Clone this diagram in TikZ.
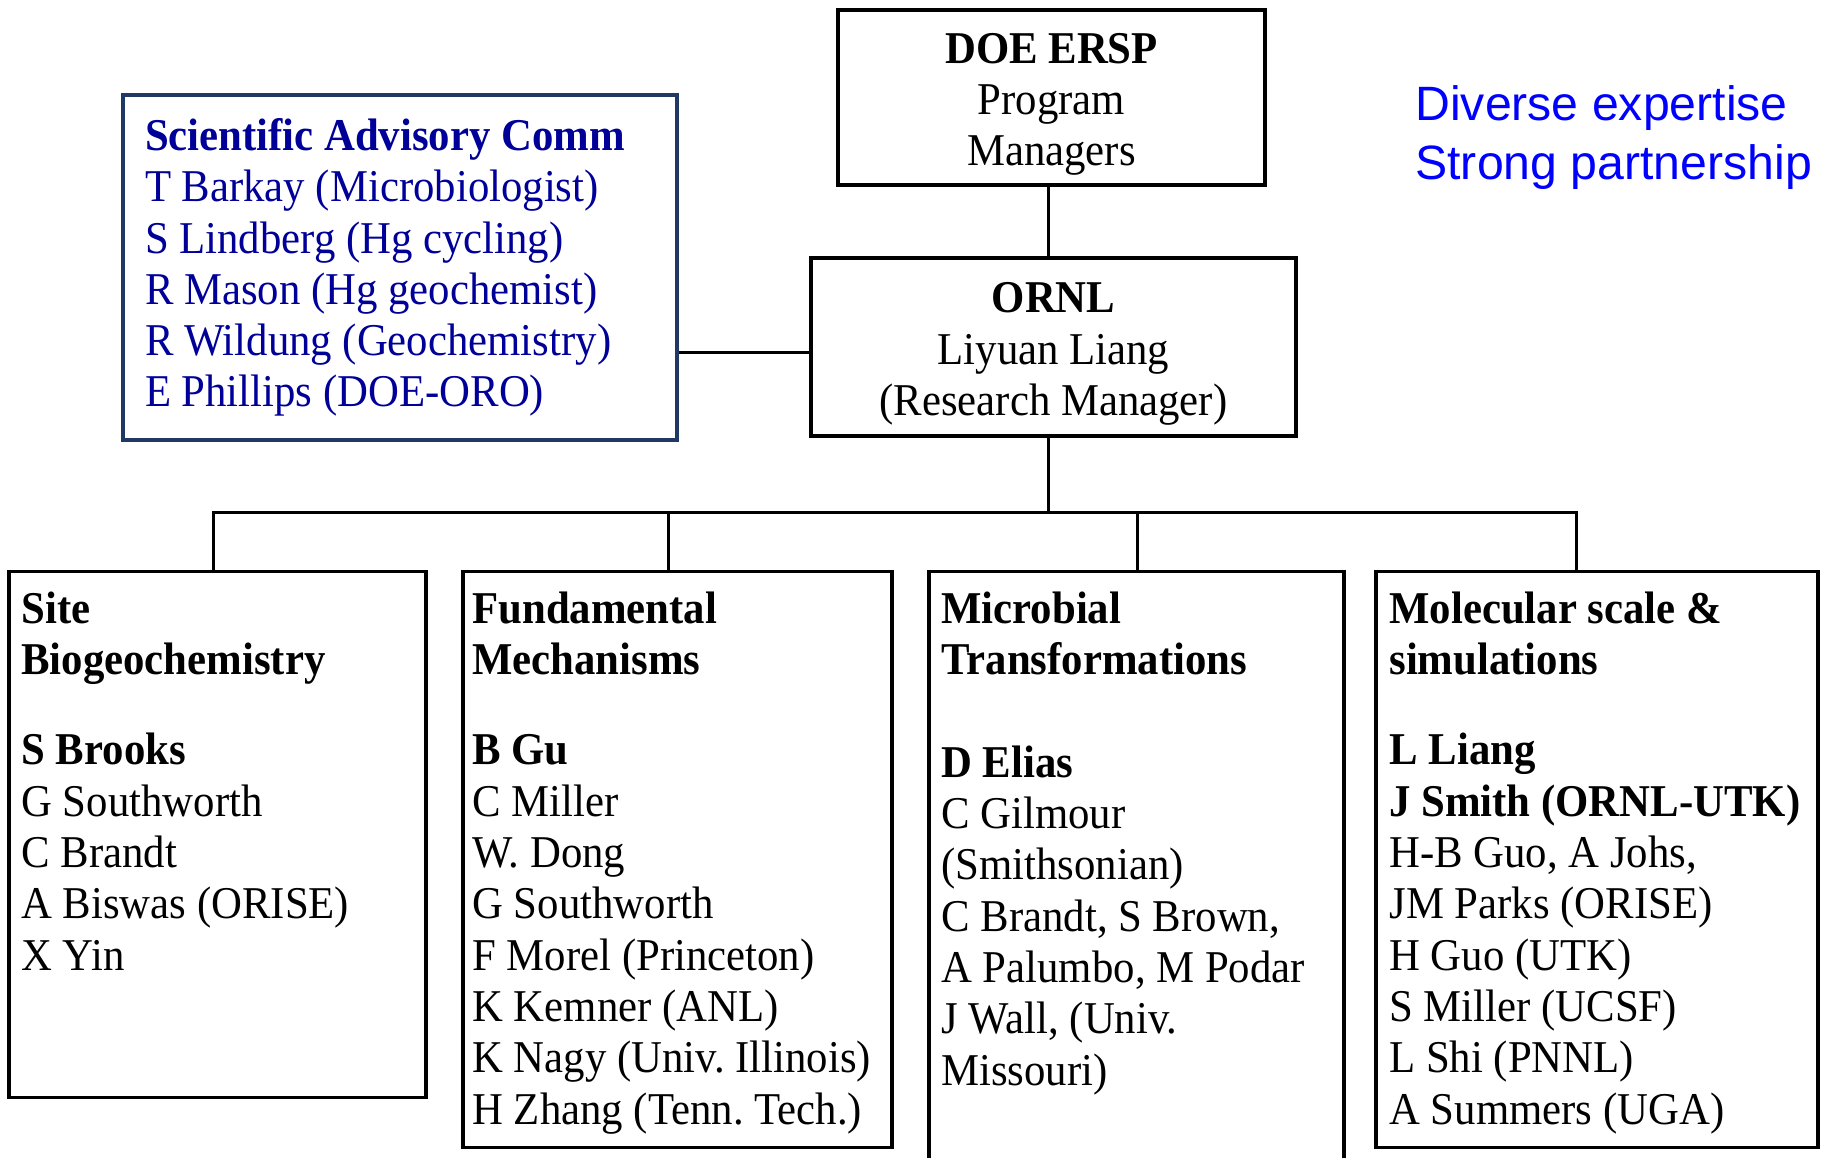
\documentclass[tikz,border=0pt]{standalone}
\usepackage{fontspec}
\setmainfont{Liberation Serif}[FakeStretch=0.94]
\newfontfamily\sansfnt{Liberation Sans}
\usetikzlibrary{positioning}
\frenchspacing

\definecolor{sacline}{RGB}{31,56,100}
\definecolor{sactext}{RGB}{0,0,153}
\definecolor{mottoblue}{RGB}{0,0,255}
\newcommand{\boxfnt}{\fontsize{22.75pt}{25.65pt}\selectfont}
\newcommand{\mottofnt}{\sansfnt\fontsize{24.1pt}{29.65pt}\selectfont}
\newcommand{\toprule}{\rule{0pt}{22pt}}

\tikzset{
  orgbox/.style={draw, rectangle, line width=1.6pt, inner sep=0pt},
  memtext/.style={anchor=north west, inner sep=0pt, align=flush left, font=\boxfnt},
  link/.style={line width=1.5pt},
}

\begin{document}
\begin{tikzpicture}[x=0.5pt, y=-0.5pt]
  \useasboundingbox (0,0) rectangle (1824,1157);
  % top of the chart
  \node[orgbox, minimum width=213.5pt, minimum height=87.5pt, align=flush center, font=\boxfnt] (doe) at (1051.5,97.5)
    {\toprule\textbf{DOE ERSP}\\Program\\Managers};
  \node[orgbox, minimum width=242.5pt, minimum height=89pt, align=flush center, font=\boxfnt] (ornl) at (1053.5,347)
    {\toprule\textbf{ORNL}\\Liyuan Liang\\(Research Manager)};
  % advisory committee
  \node[orgbox, draw=sacline, text=sactext, text width=255pt, inner xsep=11pt, minimum height=172.5pt, align=flush left, font=\boxfnt] (sac) at (400,267.5)
    {\textbf{Scientific Advisory Comm}\\T Barkay (Microbiologist)\\S Lindberg (Hg cycling)\\R Mason (Hg geochemist)\\R Wildung (Geochemistry)\\E Phillips (DOE-ORO)};
  % motto
  \node[anchor=north west, inner sep=0pt, align=flush left, text=mottoblue, font=\mottofnt] (motto) at (1415,78.4)
    {\strut Diverse expertise\\Strong partnership};

  % research areas
  \node[orgbox, anchor=north, minimum width=208.5pt, minimum height=263pt] (site) at (217.5,570) {};
  \node[orgbox, anchor=north, minimum width=214.5pt, minimum height=288pt] (fund) at (677.5,570) {};
  \node[orgbox, anchor=north, minimum width=207.5pt, minimum height=305pt] (micro) at (1136.5,570) {};
  \node[orgbox, anchor=north, minimum width=221pt, minimum height=288pt] (mol) at (1597,570) {};

  \node[memtext] (sitetxt) at (21,587)
    {\strut\textbf{Site}\\\textbf{Biogeochemistry}\\[19.5pt]\textbf{S Brooks}\\G Southworth\\C Brandt\\A Biswas (ORISE)\\X Yin};
  \node[memtext] (fundtxt) at (472,587)
    {\strut\textbf{Fundamental}\\\textbf{Mechanisms}\\[19.5pt]\textbf{B Gu}\\C Miller\\W. Dong\\G Southworth\\F Morel (Princeton)\\K Kemner (ANL)\\K Nagy (Univ. Illinois)\\H Zhang (Tenn. Tech.)};
  \node[memtext] (microtxt) at (941,587)
    {\strut\textbf{Microbial}\\\textbf{Transformations}\\[25.65pt]\textbf{D Elias}\\C Gilmour\\(Smithsonian)\\C Brandt, S Brown,\\A Palumbo, M Podar\\J Wall, (Univ.\\Missouri)};
  \node[memtext] (moltxt) at (1389,587)
    {\strut\textbf{Molecular scale \&}\\\textbf{simulations}\\[19.5pt]\textbf{L Liang}\\\textbf{J Smith (ORNL-UTK)}\\H-B Guo, A Johs,\\JM Parks (ORISE)\\H Guo (UTK)\\S Miller (UCSF)\\L Shi (PNNL)\\A Summers (UGA)};

  % connectors
  \coordinate (trunk) at (1048,512);
  \coordinate (sacjoin) at (0,352.5);
  \draw[link] (trunk |- doe.south) -- (trunk |- ornl.north);
  \draw[link] (trunk |- ornl.south) -- (trunk);
  \draw[link] (sac.east |- sacjoin) -- (ornl.west |- sacjoin);
  \foreach \x [count=\i] in {213,668,1137,1576}
    \coordinate (drop\i) at (\x,512);
  \draw[link] (drop1 |- site.north) -- (drop1) -- (drop4) -- (drop4 |- mol.north);
  \draw[link] (drop2) -- (drop2 |- fund.north);
  \draw[link] (drop3) -- (drop3 |- micro.north);
\end{tikzpicture}
\end{document}
